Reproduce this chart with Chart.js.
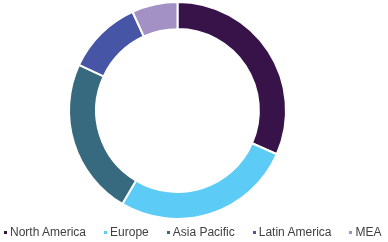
<!DOCTYPE html>
<html>
<head>
<meta charset="utf-8">
<script src="https://cdn.jsdelivr.net/npm/chart.js@4"></script>
<style>
  html, body { margin: 0; padding: 0; background: #fff; }
  #wrap { position: relative; width: 388px; height: 242px; }
  #legend {
    position: absolute; left: 4px; top: 225px;
    display: flex; align-items: center;
    font: 12px "Liberation Sans", Arial, sans-serif; color: #404040;
    line-height: 14px; white-space: nowrap;
  }
  #legend .item { display: flex; align-items: center; margin-right: 18px; }
  #legend .box { width: 3px; height: 3px; margin-right: 3px; }
</style>
</head>
<body>
<div id="wrap">
  <canvas id="chart" width="388" height="242"></canvas>
  <div id="legend"></div>
</div>
<script>
// kategori dan nilai (% pangsa)
const regions = ['North America', 'Europe', 'Asia Pacific', 'Latin America', 'MEA'];
const shares = [31.6, 26.9, 23.4, 11.3, 6.8];
const colors = ['#37134a', '#5ccbf5', '#376a7e', '#4655a5', '#a390c5'];

const chart = new Chart(document.getElementById('chart').getContext('2d'), {
  type: 'doughnut',
  data: {
    labels: regions,
    datasets: [{
      data: shares,
      backgroundColor: colors,
      borderColor: '#ffffff',
      borderWidth: 2,
    }],
  },
  options: {
    responsive: false,
    animation: false,
    cutout: '75%',
    layout: {
      padding: { top: 1, bottom: 22, left: 0, right: 33 },
    },
    plugins: {
      legend: { display: false },
      tooltip: { enabled: false },
    },
  },
});

// legenda manual di bawah chart
const legend = document.getElementById('legend');
regions.forEach((name, i) => {
  const item = document.createElement('span');
  item.className = 'item';
  const box = document.createElement('span');
  box.className = 'box';
  box.style.background = colors[i];
  item.appendChild(box);
  item.appendChild(document.createTextNode(name));
  legend.appendChild(item);
});
</script>
</body>
</html>
